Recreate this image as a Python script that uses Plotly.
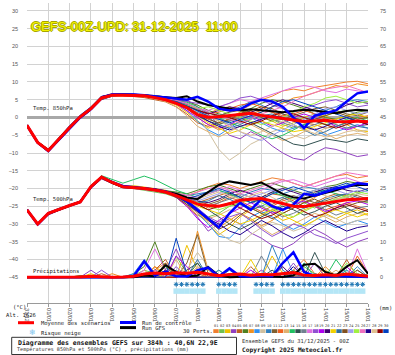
import plotly.graph_objects as go

# ---------------- data ----------------
lead_hours = [0, 12, 24, 36, 48, 60, 72, 84, 96, 108, 120, 132, 144, 156, 168, 180, 192,
              204, 216, 228, 240, 252, 264, 276, 288, 300, 312, 324, 336, 348, 360, 372, 384]
date_labels = ["31/12", "01/01", "02/01", "03/01", "04/01", "05/01", "06/01", "07/01", "08/01",
               "09/01", "10/01", "11/01", "12/01", "13/01", "14/01", "15/01", "16/01"]

t850_mean = [-2.2, -7.0, -9.3, -6.0, -2.8, 0.2, 2.5, 5.5, 6.3, 6.3, 6.3, 6.1, 5.6, 5.0,
             4.0, 2.8, 0.8, 0.1, 0.2, 0.5, 0.8, 1.2, 0.6, 0.1, -0.3, -0.7, -1.1, -0.9, -0.8, -1.1, -1.2, -1.0, -1.2]
t850_control = [-2.2, -7.1, -9.4, -6.2, -3.0, 0.0, 2.4, 5.6, 6.5, 6.6, 6.5, 6.3, 6.0, 5.8,
                5.5, 5.0, 5.8, 4.5, 2.5, 2.0, 2.3, 4.0, 5.0, 4.5, 3.0, 0.0, -3.0, 0.5, 1.2, 2.0, 4.5, 6.8, 7.3]
t850_gfs = [-2.3, -7.0, -9.2, -5.9, -2.7, 0.3, 2.6, 5.7, 6.4, 6.5, 6.4, 6.2, 5.9, 5.6,
            5.5, 6.0, 4.5, 3.5, 3.0, 2.5, 2.0, 2.3, 2.0, 1.8, 1.5, 1.8, 2.2, 2.0, 1.5, 1.2, 1.8, 2.2, 2.0]

t500_mean = [-26.0, -30.0, -27.0, -25.8, -24.8, -23.8, -19.5, -16.8, -18.3, -19.5, -19.7, -20.0, -20.4, -21.0,
             -22.0, -23.2, -24.4, -24.8, -25.0, -24.3, -23.3, -23.0, -22.8, -23.5, -24.3, -25.0, -25.1, -24.6, -24.2, -23.7, -23.2, -23.0, -22.8]
t500_control = [-26.0, -30.1, -27.0, -25.8, -24.8, -23.8, -19.5, -16.8, -18.2, -19.3, -19.6, -19.9, -20.3, -20.8,
                -22.0, -23.5, -26.0, -28.5, -31.0, -27.0, -24.0, -26.0, -23.0, -25.0, -26.0, -24.5, -21.5, -22.0, -21.0, -20.0, -19.5, -18.5, -18.8]
t500_gfs = [-26.0, -30.0, -27.1, -25.9, -24.7, -23.7, -19.6, -16.9, -18.4, -19.6, -19.7, -20.0, -20.3, -20.9,
            -21.5, -22.5, -23.0, -21.0, -19.0, -18.0, -18.5, -19.0, -18.3, -20.0, -21.5, -22.5, -22.8, -22.0, -21.3, -20.5, -19.5, -19.0, -19.0]

precip_mean = [0, 0, 0, 0, 0.1, 0.1, 0.3, 0.1, 0, 0.1, 0.3, 0.9, 1.2, 1.0, 1.3, 1.1, 1.4, 0.9, 0.4, 0.8,
               0.9, 0.6, 0.8, 0.7, 1.0, 1.3, 0.6, 0.5, 0.7, 0.5, 0.9, 0.7, 0.3]
precip_control = [0, 0, 0, 0, 0, 0, 0, 0, 0, 0, 0.3, 4.5, 0.5, 1.5, 0.3, 0.2, 2.0, 2.7, 0.2, 2.5,
                  0.3, 0.2, 0.5, 0.3, 4.0, 7.0, 1.5, 0.3, 0.2, 0.5, 0.3, 0.2, 0.1]
precip_gfs = [0, 0, 0, 0, 0, 0, 0, 0, 0, 0, 0, 0.5, 0.3, 3.4, 1.5, 0.2, 0.5, 2.9, 0.5, 0,
              0, 0.2, 0.3, 0.1, 0.1, 0.5, 3.5, 3.8, 1.5, 0.5, 3.0, 4.8, 1.0]

t850_members = [
    [-2.0, -6.8, -9.0, -5.8, -2.5, 0.5, 3.0, 5.8, 6.8, 6.5, 6.5, 6.0, 5.5, 5.0, 4.5, 3.5, 2.0, 1.0, 2.5, 3.0, 2.0, 3.5, 5.0, 6.0, 7.5, 8.0, 7.5, 8.5, 9.0, 9.5, 10.0, 10.2, 9.5],
    [-2.3, -7.2, -9.5, -6.2, -3.0, 0.0, 2.3, 5.3, 6.0, 6.2, 6.4, 6.3, 6.0, 5.5, 5.0, 4.0, 2.5, 0.5, -1.0, -2.0, -1.5, 0.0, 1.0, -0.5, -2.0, -3.0, -2.0, -1.0, 0.5, 1.5, 2.0, 1.0, -0.5],
    [-2.1, -6.9, -9.2, -5.9, -2.6, 0.4, 2.7, 5.6, 6.4, 6.6, 6.2, 5.8, 5.4, 4.6, 3.5, 1.5, -1.0, -3.0, -2.0, 0.0, 1.5, 2.0, 0.5, -1.0, -2.5, -1.5, 0.0, 1.0, 0.5, -1.0, -2.0, -3.5, -4.0],
    [-2.4, -7.3, -9.8, -6.5, -3.3, -0.3, 2.0, 5.0, 6.0, 6.5, 6.6, 6.4, 6.1, 5.8, 5.5, 5.0, 3.0, 1.0, -2.0, -5.0, -6.0, -4.0, -5.5, -8.0, -10.0, -11.5, -12.0, -10.0, -8.5, -9.0, -10.0, -11.0, -10.5],
    [-2.2, -7.0, -9.3, -6.0, -2.8, 0.1, 2.4, 5.5, 6.5, 6.2, 6.0, 5.6, 5.0, 4.4, 3.0, 1.0, -1.5, -2.5, -1.5, -0.5, 0.5, 1.0, 2.0, 1.5, 0.0, -1.0, -1.5, -2.0, -3.0, -2.5, -1.5, -1.0, -2.0],
    [-2.0, -6.9, -9.1, -5.7, -2.4, 0.6, 2.9, 5.9, 6.5, 6.7, 6.6, 6.5, 6.2, 5.8, 5.2, 4.5, 3.5, 2.0, 1.0, 0.5, 1.0, 2.5, 4.0, 5.0, 4.5, 3.5, 2.5, 1.0, 0.0, -0.5, 0.5, 1.5, 2.0],
    [-2.3, -7.1, -9.4, -6.1, -2.9, 0.0, 2.2, 5.2, 6.2, 6.0, 6.1, 6.0, 5.7, 5.2, 4.2, 2.5, 0.0, -2.0, -3.5, -2.5, -1.0, 0.5, 1.5, 3.0, 4.0, 5.5, 6.0, 7.0, 8.0, 9.0, 8.5, 9.5, 9.0],
    [-2.1, -6.8, -9.0, -5.6, -2.3, 0.7, 3.0, 6.0, 6.6, 6.4, 6.5, 6.2, 5.6, 5.0, 4.0, 2.0, -1.0, -3.5, -5.0, -3.0, -1.0, 0.0, -1.5, -3.0, -4.0, -3.0, -2.0, -3.5, -5.0, -4.0, -3.0, -2.0, -3.0],
    [-2.2, -7.0, -9.3, -6.0, -2.8, 0.3, 2.6, 5.6, 6.3, 6.2, 6.4, 6.2, 5.8, 5.3, 4.6, 3.5, 1.0, -4.0, -9.0, -12.0, -10.0, -7.5, -6.0, -4.0, -3.0, -5.0, -6.0, -4.5, -3.0, -2.0, -3.0, -4.0, -3.5],
    [-2.4, -7.2, -9.6, -6.3, -3.1, -0.2, 2.1, 5.1, 6.1, 6.4, 6.5, 6.4, 6.0, 5.5, 4.8, 3.8, 2.5, 1.5, 0.5, 1.5, 3.0, 4.5, 3.5, 2.0, 1.0, 0.0, -1.0, 0.5, 2.0, 3.0, 4.5, 5.0, 4.5],
    [-2.0, -6.7, -9.0, -5.8, -2.5, 0.5, 2.8, 5.8, 6.4, 6.3, 6.2, 6.0, 5.7, 5.1, 4.3, 3.0, 1.5, 0.0, 0.5, 1.5, 2.0, 1.0, 0.0, -1.0, -0.5, 0.5, 1.5, 2.5, 3.0, 2.0, 1.0, 0.5, 1.5],
    [-2.3, -7.1, -9.3, -6.0, -2.7, 0.2, 2.5, 5.4, 6.2, 6.5, 6.6, 6.3, 5.9, 5.4, 4.7, 3.6, 2.0, 1.0, 1.5, 2.5, 3.5, 4.0, 3.0, 1.5, 0.5, 1.0, 2.0, 1.0, -0.5, -1.5, -1.0, 0.0, 0.5],
    [-2.2, -7.0, -9.2, -5.9, -2.6, 0.3, 2.7, 5.7, 6.5, 6.6, 6.4, 6.0, 5.3, 4.5, 3.0, 0.5, -2.5, -4.0, -5.5, -4.0, -2.5, -2.0, -3.5, -5.0, -6.5, -5.5, -4.0, -3.0, -4.5, -6.0, -5.0, -4.5, -5.0],
    [-2.1, -6.9, -9.1, -5.8, -2.5, 0.4, 2.8, 5.7, 6.4, 6.4, 6.3, 6.2, 5.9, 5.4, 4.9, 4.3, 3.0, 1.5, 0.0, -1.5, -2.5, -3.5, -5.0, -6.0, -5.0, -3.5, -2.0, -1.0, -2.0, -1.5, -0.5, 0.0, -1.0],
    [-2.4, -7.3, -9.7, -6.4, -3.2, -0.2, 2.1, 5.1, 6.0, 6.3, 6.5, 6.3, 5.9, 5.3, 4.4, 3.0, 1.0, -1.0, -2.0, -1.0, 0.0, -1.5, -3.0, -4.5, -6.0, -7.5, -8.0, -7.0, -6.0, -6.5, -7.0, -6.0, -6.5],
    [-2.2, -7.1, -9.4, -6.1, -2.9, 0.1, 2.4, 5.4, 6.3, 6.4, 6.3, 6.1, 5.7, 5.1, 4.4, 3.2, 1.5, 0.5, -0.5, -1.0, 0.0, 1.0, 0.5, -0.5, -1.5, -2.5, -3.0, -2.0, -1.0, -2.0, -3.0, -2.5, -2.0],
    [-2.1, -6.9, -9.2, -5.9, -2.7, 0.3, 2.6, 5.6, 6.4, 6.5, 6.4, 6.2, 5.8, 5.3, 4.7, 3.8, 2.5, 2.0, 3.0, 4.0, 5.0, 4.5, 5.5, 6.5, 7.5, 8.5, 9.0, 8.5, 7.5, 7.0, 8.0, 7.5, 7.0],
    [-2.3, -7.2, -9.5, -6.2, -3.0, 0.0, 2.3, 5.3, 6.1, 6.3, 6.4, 6.3, 6.0, 5.6, 5.0, 4.5, 4.0, 3.5, 3.0, 4.0, 5.5, 6.0, 5.0, 3.5, 2.5, 1.5, 2.5, 3.5, 4.5, 5.0, 4.0, 3.0, 3.5],
    [-2.0, -6.8, -9.1, -5.7, -2.4, 0.6, 2.9, 5.9, 6.6, 6.5, 6.4, 6.1, 5.5, 4.8, 3.8, 2.0, 0.0, -2.0, -3.0, -2.0, -0.5, 0.5, -1.0, -2.5, -1.5, 0.0, 1.0, 0.0, -1.0, -2.5, -3.5, -2.5, -1.5],
    [-2.2, -7.0, -9.3, -6.0, -2.8, 0.2, 2.5, 5.5, 6.3, 6.3, 6.3, 6.1, 5.7, 5.1, 4.5, 3.3, 2.0, 1.0, 2.0, 3.0, 2.5, 1.5, 2.5, 4.0, 5.0, 4.0, 3.0, 2.0, 1.0, 2.0, 3.5, 4.5, 4.0],
    [-2.4, -7.2, -9.5, -6.2, -3.0, 0.0, 2.3, 5.3, 6.1, 6.2, 6.2, 6.0, 5.5, 4.9, 4.0, 2.5, 0.5, -1.5, -3.0, -4.5, -3.5, -2.0, -1.0, -2.0, -3.0, -4.0, -3.5, -2.5, -1.5, -0.5, 0.5, 1.0, 0.0],
    [-2.1, -6.9, -9.1, -5.8, -2.5, 0.5, 2.8, 5.8, 6.5, 6.4, 6.3, 6.1, 5.7, 5.2, 4.6, 3.7, 2.2, 0.0, -2.0, -3.0, -2.0, -0.5, 0.5, 1.0, -0.5, -2.0, -3.5, -5.0, -4.0, -2.5, -1.5, -2.5, -3.0],
    [-2.3, -7.1, -9.4, -6.1, -2.9, 0.1, 2.4, 5.4, 6.2, 6.3, 6.4, 6.2, 5.8, 5.2, 4.5, 3.0, 1.0, -0.5, -1.5, -0.5, 1.0, 2.0, 3.0, 2.5, 1.0, 0.0, -1.0, -0.5, 0.5, 1.5, 0.5, -0.5, 0.0],
    [-2.2, -7.0, -9.3, -6.0, -2.8, 0.2, 2.6, 5.6, 6.4, 6.4, 6.3, 6.0, 5.5, 4.9, 4.0, 2.8, 1.5, 0.5, -0.5, -2.0, -4.0, -5.5, -6.5, -5.0, -3.5, -2.0, -0.5, 1.0, 2.5, 3.0, 2.0, 1.0, 1.5],
    [-2.1, -6.9, -9.2, -5.9, -2.6, 0.4, 2.7, 5.7, 6.5, 6.5, 6.4, 6.2, 5.7, 5.1, 4.4, 3.4, 2.5, 3.0, 2.0, 1.0, 0.0, -1.0, -2.0, -1.0, 0.0, 1.5, 3.0, 4.0, 5.5, 6.0, 5.0, 4.0, 4.5],
    [-2.3, -7.1, -9.4, -6.1, -2.9, 0.1, 2.4, 5.4, 6.3, 6.4, 6.5, 6.3, 5.9, 5.4, 4.8, 3.9, 2.6, 1.5, 0.5, -0.5, -1.5, -0.5, 1.0, 2.0, 3.0, 4.5, 6.0, 7.0, 8.0, 8.5, 9.0, 8.0, 7.0],
    [-2.2, -7.0, -9.3, -6.0, -2.8, 0.2, 2.5, 5.5, 6.3, 6.3, 6.3, 6.1, 5.6, 5.0, 4.0, 2.5, 0.5, -1.0, -2.5, -3.5, -2.5, -1.5, -0.5, 0.5, 0.0, -1.0, -2.5, -3.5, -2.5, -1.0, 0.0, -1.0, -2.0],
    [-2.1, -6.9, -9.2, -5.9, -2.6, 0.4, 2.7, 5.7, 6.4, 6.4, 6.3, 6.1, 5.6, 5.0, 4.2, 3.0, 1.8, 0.5, -1.0, -2.5, -4.0, -5.0, -4.0, -2.5, -1.0, -2.0, -3.5, -4.5, -5.5, -5.0, -4.0, -3.5, -4.5],
    [-2.3, -7.1, -9.4, -6.1, -2.9, 0.1, 2.4, 5.4, 6.2, 6.2, 6.2, 6.0, 5.6, 5.0, 4.3, 3.2, 2.0, 1.2, 0.5, 0.0, -1.0, -2.0, -1.0, 0.5, 1.5, 1.0, 0.0, -1.0, -2.0, -3.0, -2.0, -1.0, -2.0],
    [-2.2, -7.0, -9.3, -6.0, -2.8, 0.2, 2.5, 5.5, 6.3, 6.3, 6.3, 6.1, 5.6, 5.0, 4.5, 3.3, 1.8, 0.4, -0.5, -1.5, -0.5, 0.5, 1.5, 3.0, 4.5, 5.0, 4.0, 3.0, 2.0, 1.0, 0.0, -1.0, -1.5],
]

t500_members = [
    [-26.0, -30.3, -27.2, -25.9, -24.6, -23.5, -19.0, -16.5, -18.0, -19.3, -19.5, -19.8, -20.2, -20.8, -21.5, -22.0, -21.0, -19.5, -18.5, -19.0, -20.0, -19.0, -18.0, -17.0, -17.5, -18.5, -19.5, -18.5, -17.5, -16.5, -16.0, -17.0, -16.5],
    [-26.1, -30.0, -26.8, -25.6, -24.9, -24.0, -19.8, -17.0, -18.5, -19.8, -20.0, -20.5, -21.0, -21.5, -22.5, -24.0, -26.0, -28.0, -27.0, -25.0, -24.0, -25.5, -27.0, -26.0, -24.5, -23.0, -24.0, -25.5, -24.0, -23.0, -22.5, -23.5, -24.0],
    [-25.9, -29.8, -27.1, -25.7, -24.7, -23.6, -19.3, -16.9, -18.2, -19.4, -19.2, -19.5, -20.0, -20.5, -21.5, -23.5, -26.5, -30.0, -33.0, -31.0, -28.0, -26.0, -25.0, -27.0, -29.0, -28.0, -26.0, -25.0, -27.0, -28.5, -27.0, -26.0, -27.5],
    [-26.2, -30.5, -27.5, -26.1, -25.0, -24.0, -20.0, -17.3, -18.6, -19.8, -20.0, -20.2, -20.6, -21.2, -22.0, -24.5, -28.0, -32.0, -30.0, -28.5, -30.0, -32.5, -34.0, -36.0, -37.0, -35.5, -33.0, -31.5, -33.0, -35.0, -36.5, -35.0, -34.0],
    [-26.0, -30.0, -27.0, -25.8, -24.7, -23.7, -19.4, -16.6, -18.1, -19.4, -19.6, -19.9, -20.3, -20.9, -22.0, -23.0, -24.0, -23.0, -22.0, -21.0, -22.5, -24.0, -23.0, -21.5, -22.0, -23.5, -25.0, -24.0, -22.5, -21.5, -22.0, -23.0, -22.5],
    [-26.0, -29.9, -26.9, -25.7, -24.8, -23.9, -19.6, -17.0, -18.4, -19.6, -19.5, -19.8, -20.1, -20.6, -21.0, -21.5, -20.5, -19.5, -19.0, -20.0, -21.0, -20.0, -19.0, -18.5, -19.5, -20.5, -21.5, -20.5, -19.5, -19.0, -18.0, -18.5, -19.0],
    [-25.9, -30.1, -27.0, -25.8, -24.9, -24.0, -19.7, -16.7, -18.2, -19.5, -19.8, -20.1, -20.6, -21.3, -22.5, -25.0, -27.5, -29.0, -31.0, -29.0, -27.0, -28.5, -30.5, -29.0, -27.0, -25.5, -24.0, -22.5, -21.0, -20.0, -19.5, -18.5, -18.0],
    [-26.1, -30.2, -27.1, -25.9, -24.8, -23.8, -19.5, -16.8, -18.3, -19.5, -19.6, -20.0, -20.5, -21.0, -22.0, -24.0, -27.0, -30.0, -33.5, -34.0, -31.0, -28.0, -26.5, -28.0, -30.0, -31.5, -30.0, -28.0, -29.5, -31.0, -30.0, -29.0, -30.0],
    [-26.0, -30.0, -27.0, -25.7, -24.6, -23.6, -19.2, -16.6, -18.2, -19.6, -19.9, -20.3, -20.7, -21.2, -22.0, -23.5, -26.0, -29.5, -32.5, -34.5, -35.5, -33.0, -31.0, -29.5, -30.5, -32.0, -31.0, -29.0, -27.5, -28.5, -30.0, -29.0, -28.5],
    [-26.0, -29.9, -26.8, -25.6, -24.7, -23.8, -19.5, -16.9, -18.3, -19.4, -19.6, -19.9, -20.3, -20.8, -21.5, -22.0, -21.5, -21.0, -20.5, -21.5, -22.5, -21.0, -20.0, -20.5, -21.5, -20.5, -19.5, -20.0, -21.0, -20.0, -19.0, -18.5, -19.0],
    [-26.1, -30.1, -27.1, -25.9, -24.9, -23.9, -19.7, -17.1, -18.6, -19.7, -19.8, -20.2, -20.6, -21.1, -22.0, -22.5, -23.5, -24.5, -23.5, -22.0, -21.5, -22.5, -23.5, -24.5, -23.0, -22.0, -23.0, -24.0, -23.5, -22.5, -21.5, -22.0, -23.0],
    [-25.9, -29.8, -26.9, -25.7, -24.6, -23.5, -19.2, -16.5, -18.0, -19.3, -19.5, -19.8, -20.2, -20.7, -21.5, -22.5, -24.0, -25.5, -24.0, -22.5, -23.5, -25.0, -26.5, -25.0, -23.5, -22.5, -23.5, -25.0, -26.0, -25.0, -24.0, -25.0, -26.0],
    [-26.0, -30.0, -27.0, -25.8, -24.8, -23.8, -19.5, -16.8, -18.3, -19.5, -19.7, -20.0, -20.4, -21.0, -22.5, -24.5, -27.0, -28.5, -27.5, -26.0, -27.0, -29.0, -31.0, -33.0, -31.5, -30.0, -28.5, -27.0, -28.0, -29.5, -28.0, -27.0, -27.5],
    [-26.0, -30.1, -27.0, -25.8, -24.7, -23.7, -19.3, -16.4, -17.5, -18.5, -17.5, -16.5, -17.5, -19.0, -20.5, -21.5, -22.5, -21.5, -20.5, -21.5, -23.0, -24.0, -22.5, -21.0, -22.0, -23.0, -22.0, -21.0, -20.5, -21.5, -22.5, -21.5, -20.5],
    [-26.1, -30.2, -27.2, -26.0, -25.0, -24.0, -19.8, -17.0, -18.5, -19.7, -19.9, -20.2, -20.6, -21.2, -22.0, -23.0, -24.5, -26.0, -28.0, -30.0, -31.5, -30.0, -28.0, -26.5, -25.0, -26.0, -27.5, -26.5, -25.0, -24.0, -25.5, -27.0, -26.0],
    [-26.0, -30.0, -27.0, -25.8, -24.8, -23.8, -19.5, -16.8, -18.3, -19.5, -19.7, -20.0, -20.4, -21.0, -22.0, -23.0, -24.5, -25.0, -24.0, -23.0, -22.0, -23.5, -25.0, -26.5, -28.0, -27.0, -25.5, -24.5, -26.0, -27.5, -26.5, -25.5, -25.0],
    [-25.9, -29.9, -26.9, -25.7, -24.7, -23.7, -19.4, -16.7, -18.2, -19.4, -19.6, -19.9, -20.3, -20.9, -21.5, -22.0, -22.5, -21.5, -20.5, -19.5, -20.5, -21.5, -20.5, -19.0, -18.0, -17.5, -18.5, -19.5, -18.5, -17.5, -17.0, -18.0, -19.0],
    [-26.1, -30.1, -27.1, -25.9, -24.9, -23.9, -19.6, -16.9, -18.4, -19.6, -19.8, -20.1, -20.5, -21.1, -22.0, -23.5, -25.5, -28.0, -29.5, -28.0, -27.0, -29.0, -31.5, -33.5, -32.0, -30.0, -31.0, -33.0, -34.0, -35.5, -34.0, -33.0, -32.0],
    [-26.0, -30.0, -27.0, -25.8, -24.8, -23.8, -19.5, -16.8, -18.3, -19.5, -19.7, -20.0, -20.4, -21.0, -22.5, -25.0, -28.5, -31.0, -29.0, -27.0, -25.5, -24.0, -25.5, -27.0, -26.0, -24.5, -23.5, -25.0, -26.5, -25.5, -24.0, -23.5, -24.5],
    [-26.0, -30.1, -27.1, -25.8, -24.7, -23.7, -19.4, -16.7, -18.2, -19.5, -19.7, -20.0, -20.4, -21.0, -21.8, -22.5, -23.5, -24.0, -23.0, -21.5, -20.5, -21.5, -22.5, -21.0, -20.0, -21.0, -22.0, -21.0, -20.0, -19.5, -20.5, -21.0, -20.0],
    [-26.0, -29.9, -26.9, -25.7, -24.8, -23.8, -19.5, -16.9, -18.4, -19.6, -19.8, -20.1, -20.5, -21.0, -22.0, -23.5, -25.0, -26.0, -27.0, -28.5, -30.0, -29.0, -27.5, -26.0, -27.5, -29.0, -30.5, -29.0, -27.0, -26.0, -27.0, -28.0, -27.0],
    [-26.1, -30.1, -27.1, -25.9, -24.8, -23.8, -19.5, -16.8, -18.3, -19.5, -19.7, -20.0, -20.4, -21.0, -22.0, -23.0, -24.0, -23.5, -22.0, -23.0, -24.5, -26.0, -25.0, -23.5, -22.5, -24.0, -25.5, -24.5, -23.0, -22.0, -21.5, -22.5, -23.5],
    [-26.0, -30.0, -27.0, -25.8, -24.8, -23.8, -19.5, -16.8, -18.3, -19.5, -19.7, -20.0, -20.4, -21.0, -22.5, -24.5, -26.5, -29.0, -31.5, -30.0, -27.5, -25.5, -27.0, -28.5, -27.0, -25.5, -24.0, -23.0, -24.5, -26.0, -25.0, -24.0, -23.5],
    [-25.9, -29.9, -26.9, -25.7, -24.7, -23.7, -19.4, -16.7, -18.2, -19.4, -19.6, -19.9, -20.3, -20.9, -21.5, -22.5, -23.5, -22.5, -21.5, -20.5, -21.5, -22.5, -21.5, -20.5, -21.5, -22.5, -21.5, -20.5, -19.5, -20.5, -21.5, -20.5, -21.0],
    [-26.0, -30.0, -27.0, -25.8, -24.8, -23.8, -19.5, -16.8, -18.3, -19.5, -19.7, -20.0, -20.4, -21.0, -22.0, -23.0, -24.0, -25.0, -26.0, -25.0, -24.0, -23.0, -24.0, -25.5, -27.0, -28.0, -26.5, -25.0, -24.0, -23.0, -22.0, -21.0, -21.5],
    [-26.1, -30.1, -27.1, -25.9, -24.9, -23.9, -19.6, -16.9, -18.4, -19.6, -19.8, -20.1, -20.5, -21.1, -21.5, -22.0, -21.0, -20.0, -19.5, -20.5, -21.5, -20.5, -19.5, -18.5, -17.5, -18.5, -19.5, -18.5, -17.5, -16.5, -15.5, -16.0, -16.5],
    [-26.0, -30.0, -27.0, -25.8, -24.8, -23.8, -19.5, -16.8, -18.3, -19.5, -19.7, -20.0, -20.4, -21.0, -22.0, -24.0, -26.5, -28.5, -30.0, -32.0, -33.0, -31.0, -29.0, -30.5, -32.5, -34.0, -32.5, -30.5, -29.0, -30.5, -32.0, -31.0, -30.5],
    [-25.9, -29.9, -26.9, -25.7, -24.7, -23.7, -19.4, -16.7, -18.2, -19.4, -19.6, -19.9, -20.3, -20.9, -21.5, -22.5, -23.0, -22.0, -21.0, -22.0, -23.0, -22.0, -21.0, -22.5, -24.0, -23.0, -22.0, -21.0, -22.0, -23.0, -22.5, -21.5, -22.0],
    [-26.0, -30.0, -27.0, -25.8, -24.8, -23.8, -19.5, -16.8, -18.3, -19.5, -19.7, -20.0, -20.4, -21.0, -22.0, -23.0, -24.5, -26.0, -25.0, -24.0, -25.5, -27.0, -28.5, -27.5, -26.0, -25.0, -26.5, -28.0, -27.0, -25.5, -24.5, -25.5, -26.5],
    [-26.1, -30.1, -27.1, -25.9, -24.9, -23.9, -19.6, -16.9, -18.4, -19.6, -19.8, -20.1, -20.5, -21.1, -22.0, -23.0, -22.0, -21.0, -20.0, -21.0, -22.5, -24.0, -23.0, -21.5, -20.5, -19.5, -20.5, -21.5, -20.5, -19.5, -18.5, -19.5, -20.5],
]

precip_members = [
    [0, 0, 0, 0, 0, 0.5, 0, 0, 0, 0, 0, 1, 2, 4, 1, 0, 3, 1, 0, 0, 0.5, 0, 0, 1, 0, 2, 5, 1, 0, 0, 0, 1, 0],
    [0, 0, 0, 0, 0, 0, 0, 0, 0, 0, 0.5, 2, 1, 0, 6, 1, 0, 0, 2, 0, 0, 0, 1, 0, 0, 0, 3, 1, 0, 0, 2, 0, 0],
    [0, 0, 0, 0, 0, 0, 1, 0, 0, 0, 0, 0, 3, 1, 0, 9, 2, 0, 0, 0, 1, 0, 0, 6, 1, 0, 0, 0, 2, 0, 0, 0, 0],
    [0, 0, 0, 0, 0, 0, 2, 0, 0, 0, 0, 1, 0, 2, 8, 1, 0, 3, 0, 0, 0, 0, 2, 0, 0, 1, 0, 4, 0, 0, 0, 1, 0],
    [0, 0, 0, 0, 0, 0, 0, 1, 0, 0, 0, 0, 2, 5, 0, 0, 1, 0, 0, 0, 0, 3, 0, 0, 0, 0, 0, 1, 0, 0, 5, 0, 0],
    [0, 0, 0, 0, 0, 0, 0, 0, 0, 0, 1, 3, 10, 2, 0, 0, 4, 0, 0, 0, 0, 0, 1, 0, 0, 2, 0, 0, 0, 0, 0, 0, 1],
    [0, 0, 0, 0, 0, 0, 0, 0, 1, 0, 0, 0, 0, 3, 1, 0, 13, 2, 0, 0, 0, 0, 0, 1, 0, 0, 0, 0, 3, 0, 0, 0, 0],
    [0, 0, 0, 0, 0, 0, 0, 0, 0, 0, 1, 5, 1, 0, 2, 0, 0, 0, 0, 1, 0, 0, 0, 0, 8, 1, 0, 0, 0, 0, 2, 0, 0],
    [0, 0, 0, 0, 0, 0, 0, 0, 0, 0, 0, 0, 0, 1, 0, 2, 7, 3, 0, 0, 0, 0, 0, 0, 0, 0, 1, 0, 0, 0, 0, 0, 0],
    [0, 0, 0, 0, 0, 0, 0, 0, 0, 0, 0, 1, 2, 0, 1, 0, 0, 0, 2, 0, 0, 0, 0, 9, 2, 0, 0, 1, 0, 0, 0, 3, 0],
    [0, 0, 0, 0, 0, 0.5, 0, 0, 0, 0, 0, 0, 1, 0, 0, 4, 12, 1, 0, 0, 0, 0, 0, 0, 0, 0, 0, 0, 0, 1, 0, 0, 0],
    [0, 0, 0, 0, 0, 0, 0, 0, 0, 0, 0, 0, 3, 0, 0, 0, 2, 0, 0, 0, 1, 0, 0, 0, 0, 0, 2, 0, 0, 0, 0, 6, 1],
    [0, 0, 0, 0, 0, 0, 0, 0, 0, 0, 0, 2, 0, 0, 5, 0, 0, 0, 0, 0, 0, 1, 0, 0, 0, 0, 0, 0, 0, 2, 0, 0, 0],
    [0, 0, 0, 0, 0, 0, 0, 0, 0, 0, 0, 0, 1, 3, 0, 0, 0, 0, 0, 1, 0, 0, 0, 0, 0, 0, 4, 0, 0, 5, 1, 0, 0],
    [0, 0, 0, 0, 0, 0, 0, 0, 0, 0, 0, 1, 0, 0, 0, 2, 4, 0, 0, 0, 0, 0, 0, 2, 0, 0, 0, 7, 1, 0, 0, 0, 0],
    [0, 0, 0, 0, 0, 0, 0, 0, 0, 0, 0, 0, 2, 1, 0, 0, 0, 0, 0, 0, 0, 0, 6, 1, 0, 0, 0, 0, 0, 0, 0, 2, 0],
    [0, 0, 0, 0, 0, 0, 0, 0, 0, 0, 0, 2, 8, 2, 0, 0, 3, 0, 0, 0, 0, 0, 0, 0, 0, 0, 0, 0, 0, 0, 0, 8, 1],
    [0, 0, 0, 0, 0, 0, 0, 2, 0, 0, 0, 0, 0, 0, 3, 0, 0, 0, 0, 0, 0, 0, 0, 0, 0, 4, 0, 0, 0, 0, 0, 0, 0],
    [0, 0, 0, 0, 0, 0, 0, 0, 0, 0, 0, 0, 0, 0, 6, 3, 0, 0, 0, 0, 0, 2, 0, 0, 0, 0, 0, 0, 0, 0, 3, 0, 0],
    [0, 0, 0, 0, 0, 0, 0, 0, 0, 0, 0, 0, 0, 2, 0, 0, 0, 0, 0, 0, 0, 0, 0, 0, 3, 0, 0, 0, 0, 0, 0, 0, 0],
    [0, 0, 0, 0, 0, 0, 0, 0, 0, 0, 0, 0, 1, 0, 0, 0, 0, 0, 0, 0, 0, 5, 0, 0, 0, 0, 0, 0, 0, 0, 0, 0, 0],
    [0, 0, 0, 0, 0, 0, 0, 0, 0, 0, 0, 0, 0, 0, 0, 0, 5, 0, 0, 2, 0, 0, 0, 0, 0, 1, 0, 0, 0, 0, 0, 0, 0],
    [0, 0, 0, 0, 0, 0, 0, 0, 0, 0, 0, 0, 0, 4, 0, 0, 0, 0, 0, 0, 0, 0, 0, 0, 0, 0, 0, 0, 0, 0, 0, 2, 0],
    [0, 0, 0, 0, 0, 0, 0, 0, 0, 0, 0, 0, 0, 0, 2, 0, 0, 0, 0, 0, 0, 0, 0, 0, 0, 0, 0, 0, 0, 0, 0, 0, 0],
    [0, 0, 0, 0, 0, 0, 0, 0, 0, 0, 0, 0, 0, 0, 0, 0, 0, 0, 0, 0, 0, 0, 0, 0, 0, 0, 0, 0, 0, 0, 4, 1, 0],
    [0, 0, 0, 0, 0, 0, 0, 0, 0, 0, 0, 0, 2, 0, 0, 0, 0, 0, 0, 0, 0, 0, 0, 0, 0, 0, 0, 0, 0, 0, 0, 0, 0],
    [0, 0, 0, 0, 0, 0, 0, 0, 0, 0, 0, 0, 0, 0, 0, 0, 0, 0, 0, 0, 0, 0, 0, 0, 0, 3, 0, 0, 0, 0, 0, 0, 0],
    [0, 0, 0, 0, 0, 0, 0, 0, 0, 0, 0, 0, 0, 0, 0, 0, 3, 0, 0, 0, 0, 0, 0, 0, 0, 0, 0, 0, 0, 0, 0, 0, 0],
    [0, 0, 0, 0, 0, 0, 0, 0, 0, 0, 0, 0, 0, 0, 0, 1, 0, 0, 0, 0, 0, 0, 0, 0, 0, 0, 0, 0, 0, 0, 0, 0, 0],
    [0, 0, 0, 0, 0, 0, 0, 0, 0, 0, 0, 0, 0, 0, 11, 1, 0, 0, 0, 0, 0, 0, 0, 0, 0, 0, 0, 0, 0, 0, 0, 0, 0],
]

member_labels = ["01", "02", "03", "04", "05", "06", "07", "08", "09", "10", "11", "12", "13", "14", "15",
                 "16", "17", "18", "19", "20", "21", "22", "23", "24", "25", "26", "27", "28", "29", "30"]
member_colors = ["#f08030", "#70c050", "#f0c000", "#9040c0", "#c06020", "#508020", "#f09020", "#3090f0",
                 "#d0c0a0", "#3080c0", "#806030", "#f06020", "#e0b070", "#20c060", "#305050", "#708090",
                 "#e070e0", "#9050d0", "#b000f0", "#400070", "#f0d000", "#3070a0", "#805020", "#a0a0f0",
                 "#a0f040", "#f070c0", "#200090", "#e0c090", "#900000", "#0040c0"]

snow_hours = [168, 174, 180, 186, 192, 198, 216, 222, 228, 234, 258, 264, 270, 276,
              288, 294, 300, 306, 312, 318, 324, 330, 336, 342, 348, 354, 360, 366, 372, 378]

for grp in (t850_members, t500_members, precip_members):
    assert len(grp) == 30 and all(len(s) == len(lead_hours) for s in grp)
for s in (t850_mean, t850_control, t850_gfs, t500_mean, t500_control, t500_gfs,
          precip_mean, precip_control, precip_gfs):
    assert len(s) == len(lead_hours)

# ---------------- figure ----------------
W, H = 395, 355
L, R, T, B = 27, 27, 3, 52
MONO = "DejaVu Sans Mono"
SANS = "Liberation Sans"
PRECIP_OFFSET = 45  # right axis = left axis + 45
SNOW_GLYPH_Y = -47.0
SNOW_BAND_Y = -48.9

days = [h / 24 for h in lead_hours]
snow_days = [h / 24 for h in snow_hours]


def px(x):
    return (x - L) / (W - L - R)


def py(y):
    return (H - B - y) / (H - T - B)


fig = go.Figure()

for i in range(30):
    c = member_colors[i]
    fig.add_trace(go.Scatter(x=days, y=t850_members[i], mode="lines", line=dict(color=c, width=1)))
    fig.add_trace(go.Scatter(x=days, y=t500_members[i], mode="lines", line=dict(color=c, width=1)))
    fig.add_trace(go.Scatter(x=days, y=precip_members[i], yaxis="y2", mode="lines", line=dict(color=c, width=1)))

for series, ax in ((t850_gfs, "y"), (t500_gfs, "y"), (precip_gfs, "y2")):
    fig.add_trace(go.Scatter(x=days, y=series, yaxis=ax, mode="lines", line=dict(color="#000000", width=2)))
for series, ax in ((t850_control, "y"), (t500_control, "y"), (precip_control, "y2")):
    fig.add_trace(go.Scatter(x=days, y=series, yaxis=ax, mode="lines", line=dict(color="#0000ff", width=2.5)))
for series, ax in ((t850_mean, "y"), (t500_mean, "y"), (precip_mean, "y2")):
    fig.add_trace(go.Scatter(x=days, y=series, yaxis=ax, mode="lines", line=dict(color="#ff0000", width=3)))

# snow risk markers
fig.add_trace(go.Scatter(x=snow_days, y=[SNOW_BAND_Y] * len(snow_days), mode="markers",
                         marker=dict(symbol="square", size=5.5, color="#b4e6f6", line=dict(width=0))))
fig.add_trace(go.Scatter(x=snow_days, y=[SNOW_GLYPH_Y] * len(snow_days), mode="markers",
                         marker=dict(symbol="asterisk-open", size=4, line=dict(color="#3a4ee6", width=1))))

tick_font = dict(family=SANS, size=5.5, color="#555555")
yrange = [-52.25, 32.25]
fig.update_layout(
    template="none",
    width=W, height=H, margin=dict(l=L, r=R, t=T, b=B, autoexpand=False),
    paper_bgcolor="white", plot_bgcolor="white", showlegend=False,
    xaxis=dict(range=[0, 16], tickvals=list(range(17)), ticktext=date_labels, tickangle=90,
               automargin=False,
               showgrid=True, gridcolor="#d2d2d2", gridwidth=1, zeroline=False,
               showline=True, linecolor="#9a9a9a", linewidth=1, ticks="outside", ticklen=3,
               tickcolor="#9a9a9a", tickfont=dict(family=SANS, size=5.5, color="#444444")),
    yaxis=dict(range=yrange, tickvals=list(range(-45, 31, 5)), showgrid=True, gridcolor="#d2d2d2",
               automargin=False,
               gridwidth=1, zeroline=True, zerolinecolor="#a8a8a8", zerolinewidth=2.5,
               showline=False, ticks="", tickfont=tick_font, ticklabelstandoff=8),
    yaxis2=dict(range=[yrange[0] + PRECIP_OFFSET, yrange[1] + PRECIP_OFFSET], overlaying="y", side="right",
                automargin=False,
                tickvals=list(range(0, 76, 5)), showgrid=False, zeroline=False, showline=False,
                ticks="", tickfont=tick_font, ticklabelstandoff=11),
)

ann = []


def text(x, y, s, size=5.5, color="#222222", family=MONO, bold=False, xanchor="left", **kw):
    ann.append(dict(x=px(x), y=py(y), xref="paper", yref="paper", text=(f"<b>{s}</b>" if bold else s),
                    showarrow=False, xanchor=xanchor, yanchor="middle",
                    font=dict(family=family, size=size, color=color, **kw)))


text(29, 26, "GEFS-00Z-UPD: 31-12-2025&nbsp;&nbsp;11:00", size=13, color="#f4f400", family=SANS,
     shadow="1px 0 0 #a6a600, -1px 0 0 #a6a600, 0 1px 0 #a6a600, 0 -1px 0 #a6a600")
text(31, 108, "Temp. 850hPa")
text(31, 199, "Temp. 500hPa")
text(31, 271, "Précipitations")
text(11, 307, "(°C)")
text(4, 315, "Alt. 1626")
text(377, 308, "(mm)")
text(39, 323, "Moyenne des scénarios")
text(140, 322.7, "Run de contrôle")
text(140, 327.7, "Run GFS")
text(39, 333.5, "Risque neige")
text(181, 331, "30 Perts.")
text(32, 332.5, "❄", size=8, color="#7cc4ee", family="DejaVu Sans", xanchor="center")
text(16, 342.6, "Diagramme des ensembles GEFS sur 384h : 40,6N 22,9E", size=6.5, color="#111111", bold=True)
text(15, 349.4, "Températures 850hPa et 500hPa (°C) , précipitations (mm)", size=5.1, color="#333333")
text(240, 340.5, "Ensemble GEFS du 31/12/2025 - 00Z", size=5.4, color="#333333")
text(240, 350.3, "Copyright 2025 Meteociel.fr", size=6.2, color="#111111", bold=True)

shapes = []


def hline(x0, x1, y, color, width):
    shapes.append(dict(type="line", xref="paper", yref="paper", x0=px(x0), x1=px(x1), y0=py(y), y1=py(y),
                       line=dict(color=color, width=width)))


hline(18, 34, 322.7, "#ff0000", 3)
hline(120, 136, 322.5, "#0000ff", 3)
hline(120, 136, 327.6, "#000000", 3)

SQ0, SQW = 213.3, 5.86
for i, (lab, col) in enumerate(zip(member_labels, member_colors)):
    x0 = SQ0 + i * SQW
    shapes.append(dict(type="rect", xref="paper", yref="paper", x0=px(x0), x1=px(x0 + 5.4),
                       y0=py(333.0), y1=py(329.2), line=dict(width=0), fillcolor=col))
    text(x0 + 2.7, 325.8, lab, size=3.6, color="#333333", xanchor="center")

shapes.append(dict(type="rect", xref="paper", yref="paper", x0=px(11.7), x1=px(236.5), y0=py(354.5),
                   y1=py(337.3), line=dict(color="#333333", width=1), fillcolor="rgba(0,0,0,0)"))

fig.update_layout(annotations=ann, shapes=shapes)
fig.write_html("out.html", config={"displayModeBar": False, "staticPlot": True},
               post_script="document.body.style.margin='0';document.body.style.overflow='hidden';")
